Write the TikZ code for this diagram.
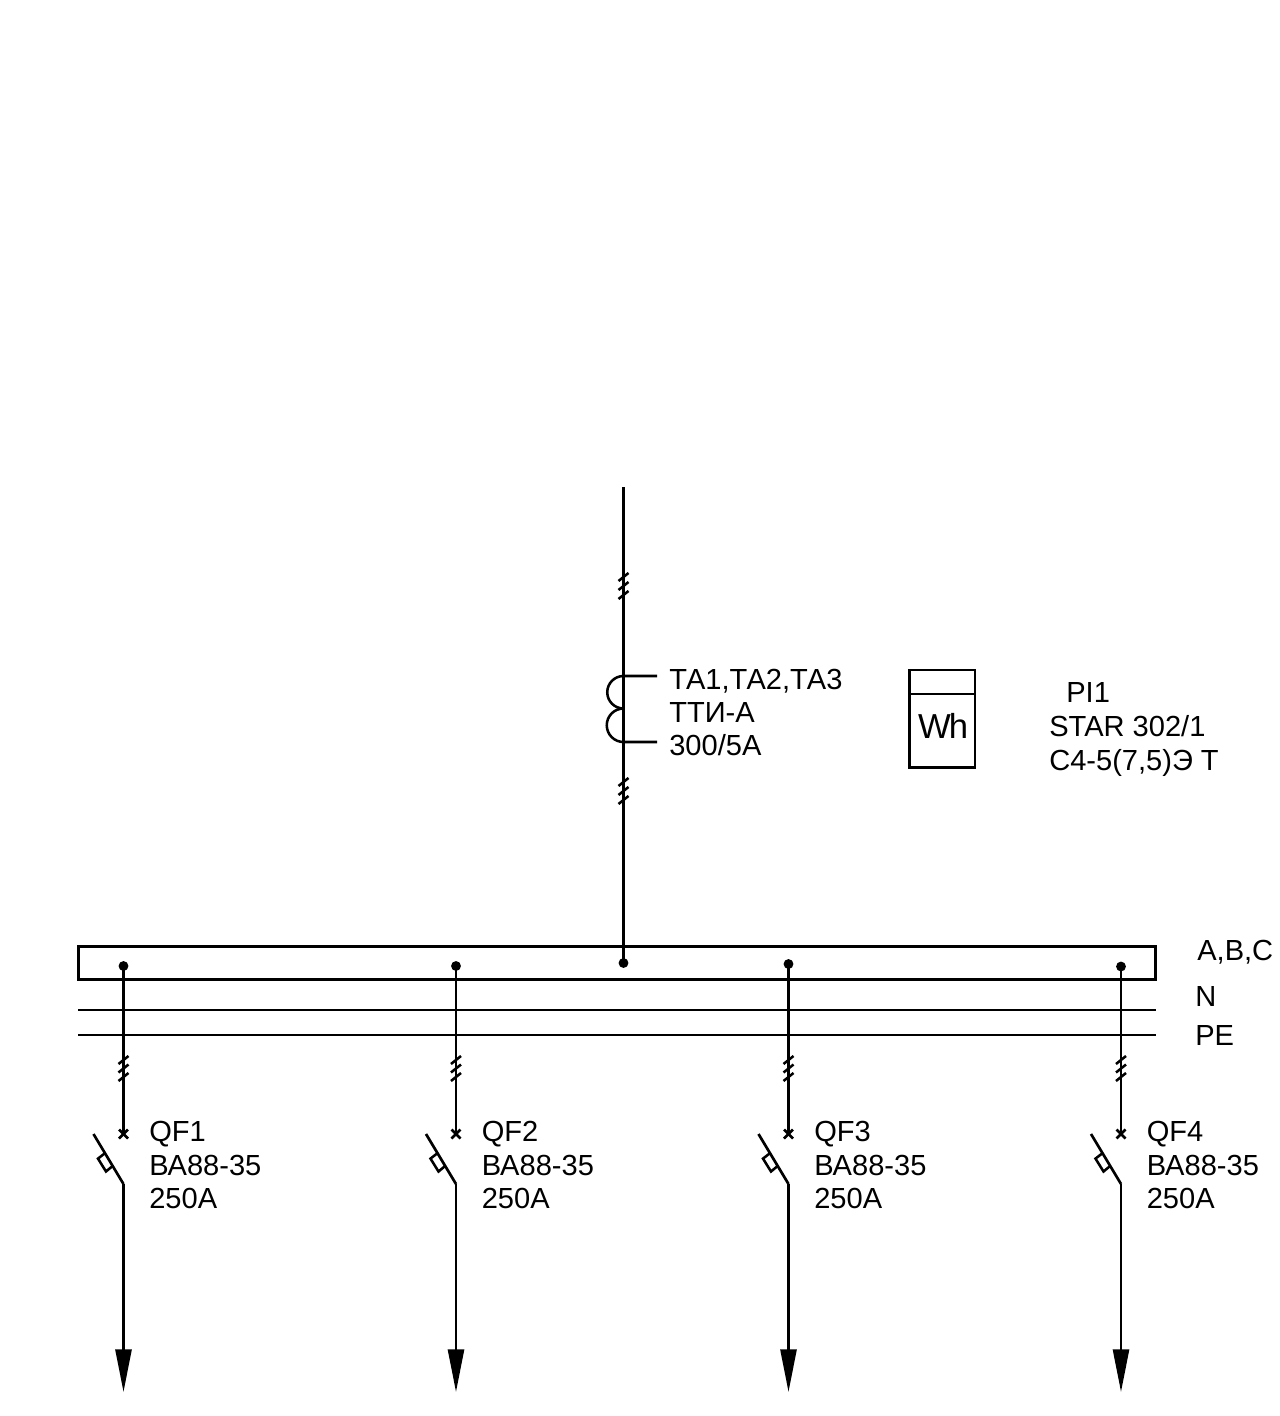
\documentclass[tikz,border=0pt]{standalone}
\usepackage{fontspec}
\setmainfont{Liberation Sans}
\usetikzlibrary{arrows.meta}
\tikzset{
  wire/.style={line width=2pt},
  thinwire/.style={line width=1.9pt},
  outgoing/.style={line width=2pt,-{Triangle[length=32pt,width=12pt]}},
  busdot/.style={circle,fill=black,inner sep=0pt,minimum size=7.4pt},
  lbl/.style={anchor=base west,inner sep=0pt,font=\fontsize{21.8}{26}\selectfont},
}
\begin{document}
\begin{tikzpicture}[x=0.75pt,y=0.75pt,yscale=-1,xscale=1]
    \useasboundingbox (0,0) rectangle (1280,1416);

    % Busbars
    \draw[thinwire] (78.5,946.5) -- (1155.5,946.5) -- (1155.5,979.5) -- (78.5,979.5) -- cycle ;
    \draw[thinwire] (78,1010) -- (1156,1010) ;
    \draw[thinwire] (78,1035) -- (1156,1035) ;
    % Text Node
    \node[lbl] (busabc) at (1197,960) {A,B,C};
    % Text Node
    \node[lbl] (busn) at (1195,1006) {N};
    % Text Node
    \node[lbl] (buspe) at (1195,1045) {PE};

    % Incoming line
    \coordinate (inTop) at (623.5,487);
    \node[busdot] (inDot) at (623.5,963) {};
    \draw[wire] (inTop) -- (inDot.center) ;
    \draw[thinwire] (618.5,581) -- (628.5,573) ;
    \draw[thinwire] (618.5,590) -- (628.5,582) ;
    \draw[thinwire] (618.5,599) -- (628.5,591) ;
    \draw[thinwire] (618.5,786) -- (628.5,778) ;
    \draw[thinwire] (618.5,795) -- (628.5,787) ;
    \draw[thinwire] (618.5,804) -- (628.5,796) ;

    % Current transformer
    \coordinate (ctTop) at (623.5,676);
    \coordinate (ctBot) at (623.5,742);
    \coordinate (ctTopEnd) at (657,676);
    \coordinate (ctBotEnd) at (657,742);
    \draw[thinwire] (ctTopEnd) -- (ctTop) arc (270:90:16.25) ;
    \draw[thinwire] (ctBotEnd) -- (ctBot) arc (90:270:16.75) ;
    % Text Node
    \node[lbl] (ctName) at (669,689) {ТА1,ТА2,ТА3};
    % Text Node
    \node[lbl] (ctType) at (669,722) {ТТИ-А};
    % Text Node
    \node[lbl] (ctRatio) at (669,755.5) {300/5А};

    % Meter
    \draw[thinwire] (909.5,670) -- (975,670) -- (975,767.5) -- (909.5,767.5) -- cycle ;
    \draw[thinwire] (909.5,694) -- (975,694) ;
    % Text Node
    \node[anchor=base,inner sep=0pt,font=\fontsize{26}{30}\selectfont] (meterWh) at (943,738) {W\kern-1.5pt h};
    % Text Node
    \node[lbl] (meterName) at (1066,702) {PI1};
    % Text Node
    \node[lbl] (meterType) at (1049,736) {STAR 302/1};
    % Text Node
    \node[lbl] (meterData) at (1049,770.5) {С4-5(7,5)Э Т};

    % Feeder QF1
    \node[busdot] (dotA) at (123.5,966) {};
    \coordinate (brkA) at (123.5,1134);
    \coordinate (bladeA) at (123.5,1184);
    \coordinate (endA) at (123.5,1392);
    \draw[wire] (dotA.center) -- (brkA) ;
    \draw[thinwire] (118.5,1064) -- (128.5,1056) ;
    \draw[thinwire] (118.5,1072.5) -- (128.5,1064.5) ;
    \draw[thinwire] (118.5,1081) -- (128.5,1073) ;
    \draw[thinwire] (119,1129.5) -- (128,1138.5) ;
    \draw[thinwire] (119,1138.5) -- (128,1129.5) ;
    \draw[wire] (93.5,1134) -- (bladeA) ;
    \draw[thinwire] (104.8,1153.3) -- (98,1158.6) -- (106,1171.5) -- (112.6,1166) ;
    \draw[outgoing] (bladeA) -- (endA) ;
    % Text Node
    \node[lbl] (nameA) at (149,1141) {QF1};
    % Text Node
    \node[lbl] (typeA) at (149,1175) {ВА88-35};
    % Text Node
    \node[lbl] (currA) at (149,1208.5) {250А};

    % Feeder QF2
    \node[busdot] (dotB) at (456,966) {};
    \coordinate (brkB) at (456,1134);
    \coordinate (bladeB) at (456,1184);
    \coordinate (endB) at (456,1392);
    \draw[wire] (dotB.center) -- (brkB) ;
    \draw[thinwire] (451,1064) -- (461,1056) ;
    \draw[thinwire] (451,1072.5) -- (461,1064.5) ;
    \draw[thinwire] (451,1081) -- (461,1073) ;
    \draw[thinwire] (451.5,1129.5) -- (460.5,1138.5) ;
    \draw[thinwire] (451.5,1138.5) -- (460.5,1129.5) ;
    \draw[wire] (426,1134) -- (bladeB) ;
    \draw[thinwire] (437.3,1153.3) -- (430.5,1158.6) -- (438.5,1171.5) -- (445.1,1166) ;
    \draw[outgoing] (bladeB) -- (endB) ;
    % Text Node
    \node[lbl] (nameB) at (481.5,1141) {QF2};
    % Text Node
    \node[lbl] (typeB) at (481.5,1175) {ВА88-35};
    % Text Node
    \node[lbl] (currB) at (481.5,1208.5) {250А};

    % Feeder QF3
    \node[busdot] (dotC) at (788.5,964) {};
    \coordinate (brkC) at (788.5,1134);
    \coordinate (bladeC) at (788.5,1184);
    \coordinate (endC) at (788.5,1392);
    \draw[wire] (dotC.center) -- (brkC) ;
    \draw[thinwire] (783.5,1064) -- (793.5,1056) ;
    \draw[thinwire] (783.5,1072.5) -- (793.5,1064.5) ;
    \draw[thinwire] (783.5,1081) -- (793.5,1073) ;
    \draw[thinwire] (784,1129.5) -- (793,1138.5) ;
    \draw[thinwire] (784,1138.5) -- (793,1129.5) ;
    \draw[wire] (758.5,1134) -- (bladeC) ;
    \draw[thinwire] (769.8,1153.3) -- (763,1158.6) -- (771,1171.5) -- (777.6,1166) ;
    \draw[outgoing] (bladeC) -- (endC) ;
    % Text Node
    \node[lbl] (nameC) at (814,1141) {QF3};
    % Text Node
    \node[lbl] (typeC) at (814,1175) {ВА88-35};
    % Text Node
    \node[lbl] (currC) at (814,1208.5) {250А};

    % Feeder QF4
    \node[busdot] (dotD) at (1121,966.5) {};
    \coordinate (brkD) at (1121,1134);
    \coordinate (bladeD) at (1121,1184);
    \coordinate (endD) at (1121,1392);
    \draw[wire] (dotD.center) -- (brkD) ;
    \draw[thinwire] (1116,1064) -- (1126,1056) ;
    \draw[thinwire] (1116,1072.5) -- (1126,1064.5) ;
    \draw[thinwire] (1116,1081) -- (1126,1073) ;
    \draw[thinwire] (1116.5,1129.5) -- (1125.5,1138.5) ;
    \draw[thinwire] (1116.5,1138.5) -- (1125.5,1129.5) ;
    \draw[wire] (1091,1134) -- (bladeD) ;
    \draw[thinwire] (1102.3,1153.3) -- (1095.5,1158.6) -- (1103.5,1171.5) -- (1110.1,1166) ;
    \draw[outgoing] (bladeD) -- (endD) ;
    % Text Node
    \node[lbl] (nameD) at (1146.5,1141) {QF4};
    % Text Node
    \node[lbl] (typeD) at (1146.5,1175) {ВА88-35};
    % Text Node
    \node[lbl] (currD) at (1146.5,1208.5) {250А};
\end{tikzpicture}
\end{document}
